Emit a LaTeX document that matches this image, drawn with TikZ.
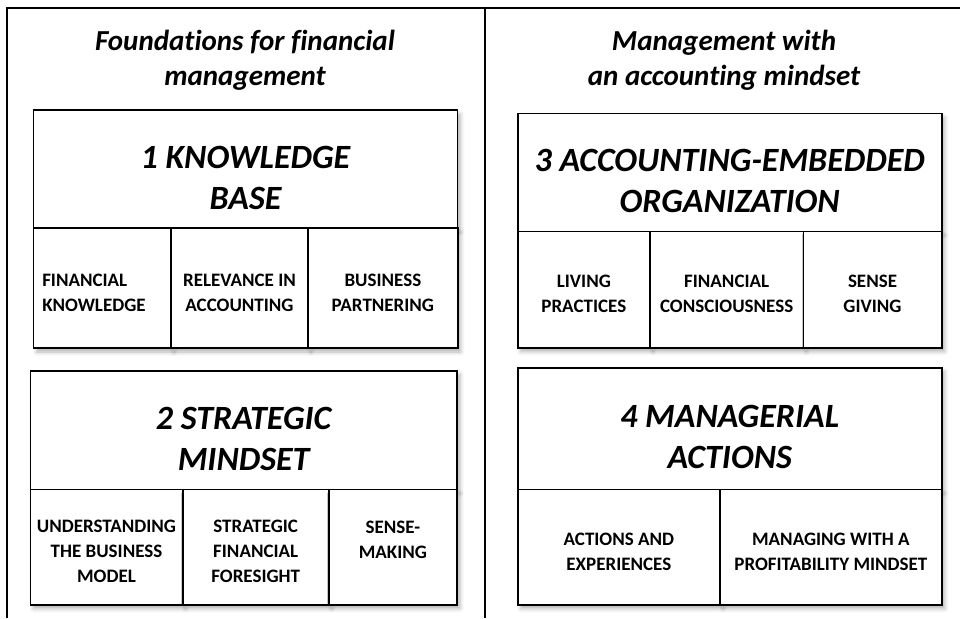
\documentclass[tikz,border=0pt]{standalone}
\usepackage{fontspec}
\setmainfont{Carlito}[Ligatures=NoCommon]
\usetikzlibrary{positioning,shadows.blur}
\newcommand{\hstrut}{\rule{0pt}{40pt}}
\newcommand{\cstrut}{\rule{0pt}{22pt}}

\begin{document}
\begin{tikzpicture}[x=1pt,y=-1pt,
  frame/.style={line width=1.4pt},
  title/.style={font=\fontsize{29}{35}\selectfont\bfseries\itshape, align=center},
  head/.style={draw, line width=1.6pt, fill=white, outer sep=0pt, inner sep=0pt,
    anchor=north west, align=center, font=\fontsize{34}{41}\selectfont\bfseries\itshape,
    blur shadow={shadow xshift=3pt, shadow yshift=-4pt, shadow blur radius=4pt, shadow opacity=30}},
  cell/.style={draw, line width=1.6pt, fill=white, outer sep=0pt, inner sep=0pt,
    align=center, font=\fontsize{19}{25}\selectfont\bfseries,
    blur shadow={shadow xshift=3pt, shadow yshift=-4pt, shadow blur radius=4pt, shadow opacity=30}}]
\useasboundingbox (0,0) rectangle (960,618);

% frame
\draw[frame] (7,618) -- (7,8) -- (960,8);
\draw[frame] (485,8) -- (485,618);

% titles
\node[title] (lefttitle) at (245,60) {Foundations for financial\\management};
\node[title] (righttitle) at (724,60) {Management with\\an accounting mindset};

% 1
\node[head, minimum width=424pt, minimum height=118pt] (kb) at (33.5,110) {\hstrut 1 KNOWLEDGE\\BASE};
\node[cell, minimum width=137.5pt, minimum height=120pt, below=0pt of kb.south west, anchor=north west,
  align=left, text width=120pt] (kbA) {\cstrut FINANCIAL\\KNOWLEDGE};
\node[cell, minimum width=137pt, minimum height=120pt, right=0pt of kbA] (kbB) {\cstrut RELEVANCE IN\\ACCOUNTING};
\node[cell, minimum width=149.7pt, minimum height=120pt, right=0pt of kbB] (kbC) {\cstrut BUSINESS\\PARTNERING};

% 2
\node[head, minimum width=426.7pt, minimum height=118.6pt] (sm) at (30.3,370.7) {\hstrut 2 STRATEGIC\\MINDSET};
\node[cell, minimum width=152.4pt, minimum height=115.4pt, below=0pt of sm.south west, anchor=north west] (smA) {\cstrut UNDERSTANDING\\THE BUSINESS\\MODEL};
\node[cell, minimum width=146pt, minimum height=115.4pt, right=0pt of smA] (smB) {\cstrut STRATEGIC\\FINANCIAL\\FORESIGHT};
\node[cell, minimum width=128.3pt, minimum height=115.4pt, right=0pt of smB] (smC) {\cstrut SENSE-\\MAKING\\~};

% 3
\node[head, minimum width=424pt, minimum height=118pt] (ae) at (517.7,113.3) {\hstrut 3 ACCOUNTING-EMBEDDED\\ORGANIZATION};
\node[cell, minimum width=132.3pt, minimum height=116.4pt, below=0pt of ae.south west, anchor=north west] (aeA) {\cstrut LIVING\\PRACTICES};
\node[cell, minimum width=153.3pt, minimum height=116.4pt, right=0pt of aeA] (aeB) {\cstrut FINANCIAL\\CONSCIOUSNESS};
\node[cell, minimum width=138.4pt, minimum height=116.4pt, right=0pt of aeB] (aeC) {\cstrut SENSE\\GIVING};

% 4
\node[head, minimum width=424pt, minimum height=121.6pt] (ma) at (517.7,367.7) {\hstrut 4 MANAGERIAL\\ACTIONS};
\node[cell, minimum width=202.3pt, minimum height=115.4pt, below=0pt of ma.south west, anchor=north west] (maA) {\cstrut ACTIONS AND\\EXPERIENCES};
\node[cell, minimum width=221.7pt, minimum height=115.4pt, right=0pt of maA] (maB) {\cstrut MANAGING WITH A\\PROFITABILITY MINDSET};
\end{tikzpicture}
\end{document}
